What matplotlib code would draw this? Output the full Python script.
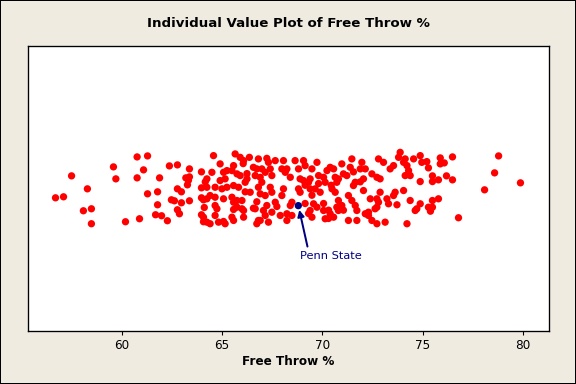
import matplotlib.pyplot as plt

# free throw percentages (x) and the vertical jitter Minitab drew them with
free_throw = [
    57.49, 59.58, 60.76, 59.70, 60.76, 58.28, 56.69, 57.09, 58.08, 58.48, 58.48, 60.18, 60.88,
    61.28, 61.08, 61.88, 62.37, 62.77, 63.37, 63.97, 63.19, 63.37, 63.32, 63.27, 64.16, 63.97,
    61.28, 61.78, 62.77, 62.97, 62.47, 62.62, 62.97, 63.37, 63.97, 64.07, 61.78, 62.77, 62.87,
    61.68, 61.98, 62.27, 63.97, 64.07,
    64.57, 65.65, 65.90, 66.07, 66.36, 66.81, 64.90, 65.57, 65.49, 65.24, 65.07, 66.56, 66.73,
    64.49, 64.24, 65.90, 65.74, 65.15, 64.90, 66.24, 66.15, 66.65, 64.24, 64.65, 64.99, 65.24,
    65.57, 65.82, 66.40, 64.40, 64.65, 64.24, 65.07, 65.49, 65.57, 65.74, 65.99, 65.74, 65.99,
    66.07, 66.56, 64.65, 64.74, 64.07, 64.65, 64.24, 64.40, 64.82, 65.07, 65.15, 65.49, 65.57,
    66.07, 66.73, 66.81,
    67.23, 67.31, 67.65, 68.06, 68.64, 69.06, 69.14, 68.81, 66.98, 67.15, 67.40, 67.48, 67.98,
    68.15, 68.23, 68.40, 69.48, 69.39, 69.31, 68.89, 69.06, 66.90, 66.98, 66.81, 67.40, 67.48,
    68.06, 67.98, 68.81, 68.89, 69.39, 66.90, 67.15, 67.65, 68.40, 68.48, 67.23, 67.06, 67.15,
    66.90, 66.65, 67.48, 67.90, 68.23, 68.48, 69.48, 69.39, 67.31, 68.23,
    69.73, 70.39, 70.56, 70.23, 70.97, 71.47, 71.97, 71.89, 71.39, 71.22, 71.05, 69.81, 70.06,
    70.14, 70.64, 70.80, 70.72, 72.05, 71.64, 71.55, 69.89, 70.48, 70.64, 72.05, 71.30, 72.39,
    69.73, 70.80, 70.97, 70.72, 70.80, 71.47, 71.64, 71.72, 70.06, 70.39, 70.14, 70.56, 71.30,
    71.72, 72.14, 72.30, 69.56,
    73.88, 73.80, 74.13, 74.05, 72.80, 73.05, 73.55, 73.38, 74.22, 74.30, 74.13, 74.38, 74.55,
    74.88, 74.96, 72.14, 72.47, 72.72, 72.88, 74.88, 72.88, 73.63, 73.55, 74.05, 72.72, 72.80,
    73.22, 73.30, 73.72, 74.38, 72.72, 72.63, 74.88, 74.71, 74.63, 72.30, 72.47, 72.72, 73.13,
    74.22,
    75.21, 75.29, 75.88, 75.88, 76.08, 76.49, 78.79, 75.49, 75.49, 75.79, 76.19, 76.49, 78.59,
    78.09, 79.88, 75.49, 75.79, 75.29, 75.49, 75.39, 76.79,
    69.64, 69.81, 70.44, 71.89, 71.55, 69.14, 69.48, 69.14, 70.06, 70.31, 71.05, 69.31, 70.31,
    66.24, 66.15, 66.73, 67.73, 64.11, 65.57, 66.05,
]
jitter = [
    0.089, 0.152, 0.222, 0.068, 0.075, -0.002, -0.065, -0.058, -0.156, -0.142, -0.247, -0.233, -0.212,
    0.229, 0.131, 0.075, 0.159, 0.166, 0.138, 0.117, 0.075, 0.082, 0.058, 0.026, 0.047, 0.005,
    -0.037, -0.023, -0.002, -0.023, -0.079, -0.086, -0.100, -0.086, -0.065, -0.079, -0.114, -0.149, -0.177,
    -0.184, -0.191, -0.226, -0.184, -0.233,
    0.231, 0.243, 0.219, 0.196, 0.219, 0.208, 0.173, 0.161, 0.126, 0.126, 0.114, 0.149, 0.138,
    0.114, 0.068, 0.091, 0.103, 0.068, 0.056, 0.068, 0.044, 0.091, 0.009, 0.009, -0.002, 0.009,
    0.021, 0.009, -0.026, -0.049, -0.061, -0.072, -0.072, -0.061, -0.096, -0.084, -0.084, -0.131, -0.142,
    -0.154, -0.138, -0.119, -0.142, -0.201, -0.189, -0.236, -0.247, -0.236, -0.231, -0.247, -0.201, -0.224,
    -0.201, -0.247, -0.224,
    0.212, 0.184, 0.196, 0.196, 0.196, 0.196, 0.161, 0.138, 0.138, 0.114, 0.138, 0.091, 0.138,
    0.114, 0.138, 0.079, 0.138, 0.068, 0.044, 0.068, 0.056, 0.079, 0.044, 0.009, 0.009, -0.026,
    -0.002, -0.049, -0.002, -0.026, -0.002, -0.037, -0.049, -0.096, -0.119, -0.096, -0.119, -0.154, -0.189,
    -0.224, -0.142, -0.166, -0.189, -0.177, -0.189, -0.201, -0.154, -0.236, -0.224,
    0.184, 0.149, 0.138, 0.126, 0.173, 0.208, 0.184, 0.138, 0.149, 0.091, 0.103, 0.091, 0.079,
    0.044, 0.079, 0.068, 0.044, 0.068, 0.044, 0.021, -0.026, -0.002, -0.026, -0.014, -0.049, -0.072,
    -0.131, -0.084, -0.119, -0.131, -0.154, -0.084, -0.119, -0.154, -0.154, -0.177, -0.212, -0.201, -0.224,
    -0.224, -0.177, -0.166, -0.107,
    0.254, 0.219, 0.208, 0.184, 0.208, 0.184, 0.161, 0.138, 0.161, 0.126, 0.091, 0.091, 0.208,
    0.231, 0.184, 0.138, 0.103, 0.079, 0.068, 0.049, -0.026, -0.026, -0.049, -0.014, -0.072, -0.096,
    -0.072, -0.107, -0.114, -0.084, -0.131, -0.142, -0.107, -0.142, -0.154, -0.189, -0.224, -0.247, -0.236,
    -0.247,
    0.189, 0.145, 0.215, 0.173, 0.180, 0.222, 0.229, 0.089, 0.049, 0.061, 0.089, 0.061, 0.110,
    -0.009, 0.040, -0.084, -0.072, -0.131, -0.131, -0.159, -0.205,
    -0.002, 0.035, 0.023, 0.047, 0.117, 0.023, -0.047, -0.105, -0.105, -0.152, -0.152, -0.175, -0.210,
    0.105, -0.023, -0.093, -0.126, -0.133, -0.147, 0.175,
]
penn_state = 68.80
penn_jitter = -0.12

bg = '#EFEBE1'
fig = plt.figure(figsize=(6, 4), dpi=96, facecolor=bg, edgecolor='black', linewidth=1.5)
ax = fig.add_axes([0.048, 0.138, 0.905, 0.742])
ax.set_facecolor('white')

ax.scatter(free_throw, jitter, s=30, color='red', edgecolors='none', zorder=3)
ax.scatter([penn_state], [penn_jitter], s=30, color='#000080', edgecolors='none', zorder=4)
ax.annotate('Penn State', xy=(penn_state + 0.05, penn_jitter - 0.03), xytext=(68.9, -0.47),
            color='#000080', fontsize=8.5, ha='left', va='center',
            arrowprops=dict(arrowstyle='-|>', color='#000080', lw=1.5, mutation_scale=10,
                            shrinkA=1, shrinkB=0, relpos=(0.13, 1.0)))

ax.set_xlim(55.3, 81.3)
ax.set_ylim(-1, 1)
ax.set_xticks([60, 65, 70, 75, 80])
ax.set_yticks([])
ax.tick_params(axis='x', direction='out', length=3, labelsize=9, pad=3)
for s in ax.spines.values():
    s.set_linewidth(1)
ax.set_xlabel('Free Throw %', fontsize=9, fontweight='bold', labelpad=2)
fig.suptitle('Individual Value Plot of Free Throw %', fontsize=10, fontweight='bold', y=0.955)

fig.savefig('out.png', dpi=96, facecolor=bg, edgecolor='black')
